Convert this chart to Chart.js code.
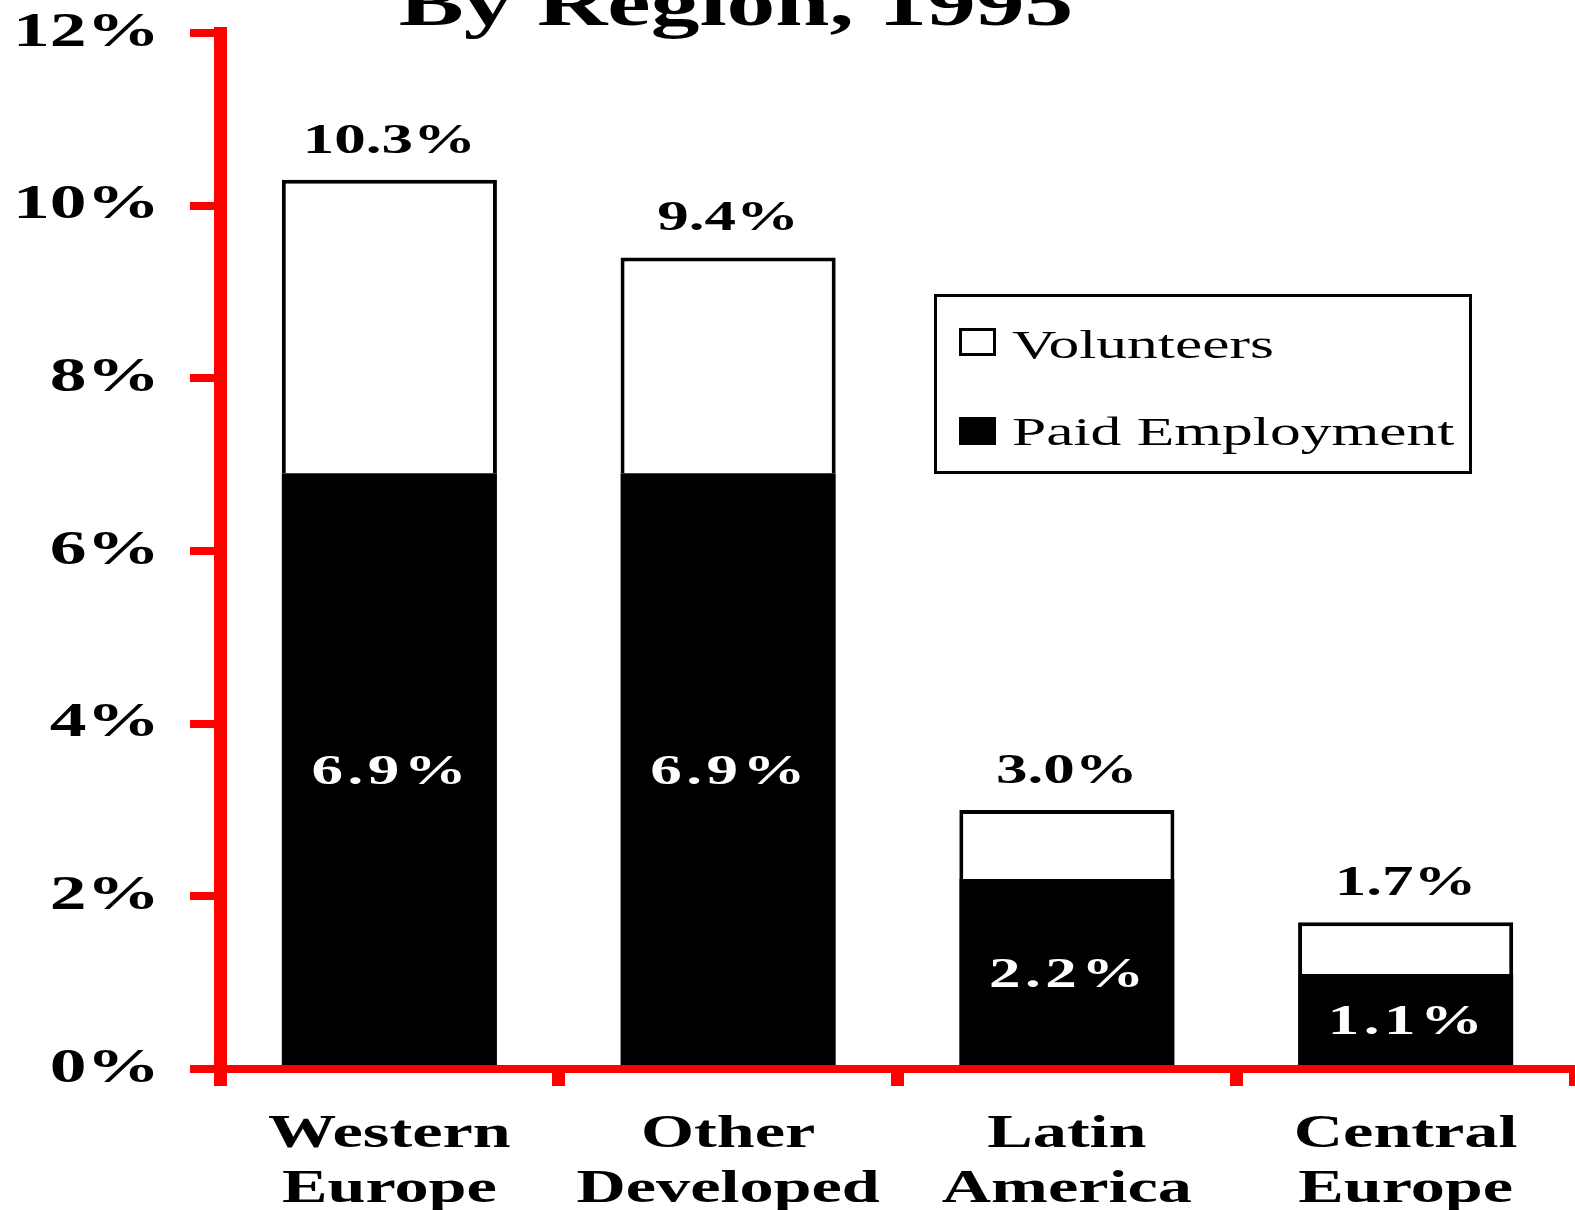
<!DOCTYPE html>
<html>
<head>
<meta charset="utf-8">
<script src="https://cdn.jsdelivr.net/npm/chart.js@4.4.1/dist/chart.umd.min.js"></script>
<style>
  html, body { margin: 0; padding: 0; background: #ffffff; }
  #wrap { width: 1575px; height: 1210px; position: relative; }
</style>
</head>
<body>
<div id="wrap"><canvas id="c" width="1575" height="1210"></canvas></div>
<script>
const titleText = 'By Region, 1995';
const categories = [['Western', 'Europe'], ['Other', 'Developed'], ['Latin', 'America'], ['Central', 'Europe']];
const paidEmployment = [6.9, 6.9, 2.2, 1.1];
const volunteers = [3.4, 2.5, 0.8, 0.6];
const seriesNames = ['Paid Employment', 'Volunteers'];
const yTickValues = [0, 2, 4, 6, 8, 10, 12];

const SERIF = '"Liberation Serif", "Times New Roman", serif';
const RED = '#ff0000';
const STRETCH = 1.5; // the original artwork's text is horizontally stretched

const fmt = v => v.toFixed(1) + '%';

const canvas = document.getElementById('c');
const ctx0 = canvas.getContext('2d');
const rawFill = CanvasRenderingContext2D.prototype.fillText;
ctx0.fillText = function (text, x, y, maxWidth) {
  this.save();
  this.translate(x, y);
  this.scale(STRETCH, 1);
  if (maxWidth !== undefined && maxWidth !== null) {
    rawFill.call(this, text, 0, 0, maxWidth / STRETCH);
  } else {
    rawFill.call(this, text, 0, 0);
  }
  this.restore();
};

const titlePlugin = {
  id: 'titleTop',
  afterDraw(chart) {
    const ctx = chart.ctx;
    ctx.save();
    ctx.font = 'bold 65px ' + SERIF;
    ctx.fillStyle = '#000';
    ctx.textAlign = 'center';
    ctx.textBaseline = 'alphabetic';
    ctx.fillText(titleText, 736, 25);
    ctx.restore();
  }
};

const valueLabels = {
  id: 'valueLabels',
  afterDatasetsDraw(chart) {
    const ctx = chart.ctx;
    const paidMeta = chart.getDatasetMeta(0);
    const volMeta = chart.getDatasetMeta(1);
    ctx.save();
    ctx.font = 'bold 42px ' + SERIF;
    ctx.textAlign = 'center';
    ctx.letterSpacing = '3px';
    paidMeta.data.forEach((el, i) => {
      ctx.fillStyle = '#ffffff';
      ctx.textBaseline = 'middle';
      ctx.fillText(fmt(paidEmployment[i]), el.x + 2, (el.y + el.base) / 2 + 4);
    });
    ctx.letterSpacing = '0px';
    volMeta.data.forEach((el, i) => {
      ctx.fillStyle = '#000000';
      ctx.textBaseline = 'alphabetic';
      ctx.fillText(fmt(paidEmployment[i] + volunteers[i]), el.x, el.y - 27);
    });
    ctx.restore();
  }
};

const boxLegend = {
  id: 'boxLegend',
  afterDraw(chart) {
    const ctx = chart.ctx;
    const ds = chart.data.datasets;
    ctx.save();
    ctx.lineWidth = 3;
    ctx.strokeStyle = '#000';
    ctx.fillStyle = '#fff';
    ctx.fillRect(935, 295, 536, 178);
    ctx.strokeRect(935.5, 295.5, 535, 177);
    const items = [
      { ds: ds[1], top: 328, base: 358 },
      { ds: ds[0], top: 417, base: 445 }
    ];
    ctx.font = '41px ' + SERIF;
    ctx.textAlign = 'left';
    ctx.textBaseline = 'alphabetic';
    items.forEach(it => {
      ctx.fillStyle = it.ds.backgroundColor;
      ctx.fillRect(959, it.top, 37, 28);
      ctx.lineWidth = 3;
      ctx.strokeStyle = '#000';
      ctx.strokeRect(960.5, it.top + 1.5, 34, 25);
      ctx.fillStyle = '#000';
      ctx.fillText(it.ds.label, 1012, it.base);
    });
    ctx.restore();
  }
};

new Chart(canvas, {
  type: 'bar',
  data: {
    labels: categories,
    datasets: [
      {
        label: seriesNames[0],
        data: paidEmployment,
        backgroundColor: '#000000',
        borderWidth: 0,
        barPercentage: 0.635,
        categoryPercentage: 1.0
      },
      {
        label: seriesNames[1],
        data: volunteers,
        backgroundColor: '#ffffff',
        borderColor: '#000000',
        borderWidth: 4,
        borderSkipped: 'bottom',
        barPercentage: 0.635,
        categoryPercentage: 1.0
      }
    ]
  },
  options: {
    responsive: false,
    animation: false,
    devicePixelRatio: 1,
    layout: { padding: { top: 33, right: 0, bottom: 0, left: 0 } },
    plugins: {
      legend: { display: false },
      title: { display: false },
      tooltip: { enabled: false }
    },
    scales: {
      x: {
        stacked: true,
        z: 1,
        grid: {
          display: true,
          drawOnChartArea: false,
          drawTicks: true,
          tickLength: 17,
          color: RED,
          lineWidth: 13,
          offset: true
        },
        border: { display: true, color: RED, width: 8 },
        ticks: {
          color: '#000',
          font: { family: SERIF, size: 45.5, weight: 'bold', lineHeight: 1.21 },
          padding: 22,
          autoSkip: false,
          maxRotation: 0,
          minRotation: 0
        },
        afterFit(scale) { scale.height = 141; scale.paddingLeft = 0; scale.paddingRight = 0; }
      },
      y: {
        stacked: true,
        min: 0,
        max: 12,
        z: 1,
        afterBuildTicks(scale) { scale.ticks = yTickValues.map(v => ({ value: v })); },
        grid: {
          display: true,
          drawOnChartArea: false,
          drawTicks: true,
          tickLength: 30,
          color: RED,
          lineWidth: 8
        },
        border: { display: true, color: RED, width: 13 },
        ticks: {
          color: '#000',
          font: { family: SERIF, size: 49, weight: 'bold' },
          padding: 30,
          callback: v => v + '%'
        },
        afterFit(scale) { scale.width = 220; scale.paddingTop = 0; scale.paddingBottom = 0; }
      }
    }
  },
  plugins: [valueLabels, boxLegend, titlePlugin]
});
</script>
</body>
</html>
